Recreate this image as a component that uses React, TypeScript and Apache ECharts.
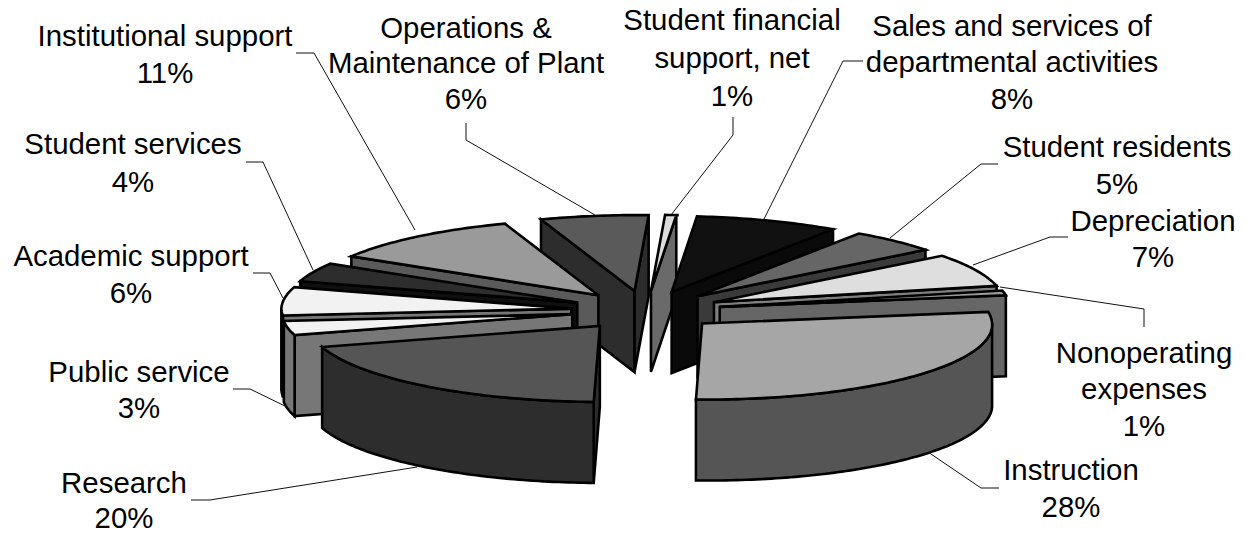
import React, { useEffect, useRef } from "react";
import * as echarts from "echarts";

const categories = [
  "Student financial\nsupport, net",
  "Sales and services of\ndepartmental activities",
  "Student residents",
  "Depreciation",
  "Nonoperating\nexpenses",
  "Instruction",
  "Research",
  "Public service",
  "Academic support",
  "Student services",
  "Institutional support",
  "Operations &\nMaintenance of Plant",
];
const shares = [1, 8, 5, 7, 1, 28, 20, 3, 6, 4, 11, 6];
const topColors = ["#dcdcdc", "#111111", "#666666", "#dedede", "#999999", "#a6a6a6", "#555555", "#f2f2f2", "#f2f2f2", "#2d2d2d", "#9a9a9a", "#5a5a5a"];
const wallColors = ["#6a6a6a", "#0a0a0a", "#3a3a3a", "#808080", "#666666", "#555555", "#2d2d2d", "#777777", "#777777", "#0f0f0f", "#5a5a5a", "#2d2d2d"];

// Label layout: centre x, centre y of the first line, line step
const labelPos = [
  [732, 19, 38], [1012, 25, 36.5], [1117, 146, 37], [1153, 220, 36], [1144, 352, 36.5], [1071, 469, 37],
  [124, 482, 35.5], [139, 371, 36], [131, 255, 37], [133, 143, 38], [165, 35, 37], [466, 27, 35.5],
];
const leaders = [
  [[733, 117], [733, 135], [671, 215]],
  [[863, 61], [843, 61], [764, 219]],
  [[998, 164], [981, 164], [890, 238]],
  [[1068, 237], [1050, 237], [973, 265]],
  [[1144, 327], [1144, 309], [1000, 287]],
  [[999, 488], [981, 488], [928, 452]],
  [[191, 500], [210, 500], [417, 467]],
  [[233, 389], [250, 389], [287, 407]],
  [[253, 273], [270, 273], [283, 298]],
  [[246, 162], [263, 162], [313, 270]],
  [[296, 53], [314, 53], [415, 230]],
  [[466, 123], [466, 140], [595, 215]],
];

const CX = 646, CY = 310.5, RX = 290, RY = 76, DEPTH = 81, EXPLODE = 75, ROTATION = 2;
const rad = (d: number) => (d * Math.PI) / 180;
const total = shares.reduce((a, b) => a + b, 0);

const spans: [number, number][] = [];
shares.reduce((acc, v) => {
  const next = acc + (v / total) * 360;
  spans.push([acc + ROTATION, next + ROTATION]);
  return next;
}, 0);

const apexOf = (i: number) => {
  const mid = rad((spans[i][0] + spans[i][1]) / 2);
  return [CX + EXPLODE * Math.sin(mid), CY - EXPLODE * (RY / RX) * Math.cos(mid)];
};
// Slight perspective drift of the rim relative to the wedge apex
const rimDrift = (deg: number) => {
  const d = ((deg % 360) + 360) % 360;
  const c = Math.cos(rad(d));
  return d > 5 && d < 90 ? -3 * c : 4 * Math.abs(c);
};
const rimPoint = (i: number, deg: number, drop = 0) => {
  const a = apexOf(i);
  return [a[0] + RX * Math.sin(rad(deg)) + rimDrift(deg), a[1] - RY * Math.cos(rad(deg)) + drop];
};
const arcPoints = (i: number, from: number, to: number, drop = 0) => {
  const n = Math.max(2, Math.ceil(to - from) + 1);
  const pts: number[][] = [];
  for (let k = 0; k < n; k++) pts.push(rimPoint(i, from + ((to - from) * k) / (n - 1), drop));
  return pts;
};

const drawOrder = shares
  .map((_, i) => i)
  .sort((a, b) => apexOf(a)[1] - apexOf(b)[1]);

const facePoly = (points: number[][], fill: string) => ({
  type: "polygon",
  shape: { points },
  style: { fill, stroke: "#000", lineWidth: 2.6, lineJoin: "miter", miterLimit: 4 },
});

const renderSlice = (_params: any, api: any) => {
  const i = api.value(0) as number;
  const [t0, t1] = spans[i];
  const a = apexOf(i);
  const aLow = [a[0], a[1] + DEPTH];
  const children: any[] = [];
  if (Math.sin(rad(t0)) < 0) {
    const p = rimPoint(i, t0);
    children.push(facePoly([a, p, [p[0], p[1] + DEPTH], aLow], wallColors[i]));
  }
  if (Math.sin(rad(t1)) > 0) {
    const p = rimPoint(i, t1);
    children.push(facePoly([a, p, [p[0], p[1] + DEPTH], aLow], wallColors[i]));
  }
  const f0 = Math.max(t0, 90), f1 = Math.min(t1, 270);
  if (f1 > f0) {
    children.push(
      facePoly([...arcPoints(i, f0, f1), ...arcPoints(i, f0, f1, DEPTH).reverse()], wallColors[i])
    );
  }
  children.push(facePoly([a, ...arcPoints(i, t0, t1)], topColors[i]));
  return { type: "group", children };
};

const FONT = '"Liberation Sans", Arial, sans-serif';

export default function App() {
  const ref = useRef<HTMLDivElement>(null);
  useEffect(() => {
    if (!ref.current) return;
    const chart = echarts.init(ref.current, undefined, { renderer: "svg" });
    const graphics: any[] = [];
    categories.forEach((name, i) => {
      graphics.push({
        type: "polyline",
        shape: { points: leaders[i] },
        style: { fill: "none", stroke: "#111", lineWidth: 1 },
        z: 5,
      });
      const lines = [...name.split("\n"), `${shares[i]}%`];
      const [x, y, step] = labelPos[i];
      lines.forEach((text, k) => {
        graphics.push({
          type: "text",
          x,
          y: y + k * step,
          z: 6,
          style: {
            text,
            fill: "#000",
            font: `29.4px ${FONT}`,
            align: "center",
            verticalAlign: "middle",
          },
        });
      });
    });
    chart.setOption({
      animation: false,
      backgroundColor: "#fff",
      graphic: graphics,
      series: [
        {
          type: "custom",
          coordinateSystem: "none",
          silent: true,
          renderItem: renderSlice,
          data: drawOrder.map((i) => [i, shares[i]]),
          encode: { value: 1 },
        },
      ],
    });
    return () => chart.dispose();
  }, []);
  return (
    <div
      ref={ref}
      style={{ position: "absolute", left: 0, top: 0, width: 1247, height: 533 }}
    />
  );
}
